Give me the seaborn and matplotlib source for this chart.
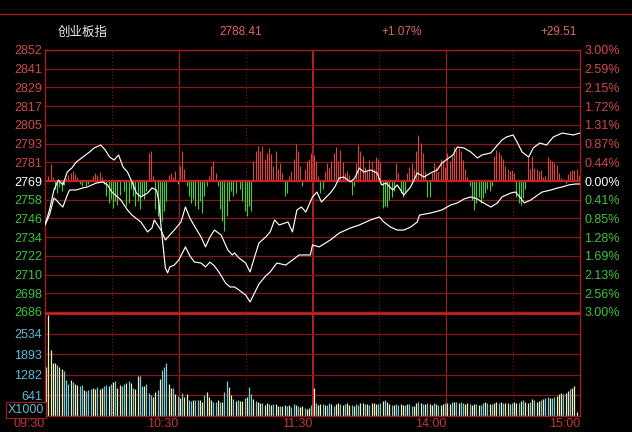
import numpy as np
import pandas as pd
import matplotlib
matplotlib.use("Agg")
import matplotlib.pyplot as plt
import seaborn as sns
from matplotlib.lines import Line2D

# ---- chart data ----
header = ['创业板指', '2788.41', '+1.07%', '+29.51']
price_labels = ['2852', '2841', '2829', '2817', '2805', '2793', '2781', '2769',
                '2758', '2746', '2734', '2722', '2710', '2698', '2686']
pct_labels = ['3.00%', '2.59%', '2.15%', '1.72%', '1.31%', '0.87%', '0.44%', '0.00%',
              '0.41%', '0.85%', '1.28%', '1.69%', '2.13%', '2.56%', '3.00%']
vol_ticks = [641, 1282, 1923, 2564]
vol_labels = ['641', '1282', '1893', '2534']
time_ticks = [0, 60, 120, 180, 240]
time_labels = ['09:30', '10:30', '11:30', '14:00', '15:00']
base_price = 2769

# index line 1 (minute since open, value)
line_a_min = [0, 2, 4, 6, 8, 10, 12, 14, 17, 20, 22, 25, 27, 29, 31, 33, 35, 37, 39, 41,
              43, 46, 48, 50, 51, 52, 54, 55, 56, 58, 60, 63, 65, 67, 70, 72, 74, 76, 78, 81,
              83, 85, 87, 90, 92, 94, 96, 99, 101, 104, 108, 111, 114, 119, 120, 123, 128, 132, 137, 141,
              146, 150, 152, 155, 158, 161, 164, 167, 168, 173, 178, 182, 185, 188, 191, 194, 196, 200, 203, 205,
              209, 211, 213, 215, 218, 221, 223, 227, 230, 232, 235, 238, 240]
line_a_val = [2741.1, 2750.6, 2763.3, 2769.6, 2766.5, 2774.7, 2777.2, 2781.0, 2784.2, 2787.4,
              2789.9, 2791.8, 2788.7, 2784.2, 2782.3, 2785.5, 2777.9, 2774.7, 2768.4, 2761.4,
              2758.9, 2761.4, 2764.6, 2763.3, 2757.0, 2741.1, 2713.8, 2710.7, 2714.5, 2715.7,
              2718.9, 2727.2, 2721.5, 2717.6, 2717.0, 2714.5, 2717.6, 2715.1, 2711.3, 2704.3,
              2701.8, 2701.8, 2699.9, 2696.7, 2692.3, 2698.0, 2703.7, 2708.8, 2711.3, 2717.0,
              2715.7, 2718.9, 2722.1, 2722.1, 2728.4, 2727.2, 2731.6, 2736.0, 2739.2, 2741.1,
              2744.3, 2746.2, 2743.0, 2739.8, 2737.9, 2737.9, 2739.8, 2743.0, 2747.4, 2748.7,
              2750.6, 2753.8, 2755.1, 2757.6, 2758.9, 2757.6, 2755.7, 2752.5, 2755.1, 2758.9,
              2761.4, 2762.0, 2758.9, 2755.1, 2757.0, 2760.1, 2762.0, 2763.3, 2764.6, 2765.2,
              2766.5, 2767.1, 2767.1]

# index line 2
line_b_min = [0, 2, 4, 5, 7, 8, 10, 11, 14, 17, 19, 21, 23, 26, 28, 30, 34, 37, 39, 43,
              46, 48, 49, 52, 54, 56, 58, 61, 63, 65, 67, 70, 72, 74, 76, 79, 82, 84, 85, 87,
              90, 92, 94, 96, 99, 101, 103, 105, 109, 111, 113, 115, 117, 120, 122, 124, 128, 130, 132, 134,
              137, 139, 141, 143, 146, 149, 151, 153, 156, 158, 161, 164, 167, 170, 173, 176, 178, 183, 185, 188,
              191, 194, 196, 200, 203, 205, 207, 210, 212, 214, 217, 219, 222, 225, 228, 232, 237, 240]
line_b_val = [2741.1, 2747.4, 2758.2, 2757.0, 2753.8, 2752.5, 2760.1, 2763.3, 2763.3, 2764.6,
              2765.2, 2766.5, 2767.7, 2768.4, 2766.5, 2762.0, 2757.0, 2750.6, 2747.4, 2743.0,
              2736.7, 2739.2, 2744.3, 2737.9, 2731.6, 2734.8, 2737.9, 2743.0, 2752.5, 2745.5,
              2740.5, 2733.5, 2727.2, 2733.5, 2737.9, 2734.8, 2725.3, 2722.1, 2723.4, 2720.2,
              2717.0, 2711.3, 2720.8, 2729.7, 2733.5, 2736.7, 2744.3, 2741.1, 2743.0, 2736.7,
              2750.6, 2752.5, 2749.3, 2758.9, 2762.0, 2755.7, 2761.4, 2765.2, 2770.9, 2771.5,
              2768.4, 2770.9, 2777.2, 2774.7, 2776.0, 2774.1, 2766.5, 2767.7, 2763.3, 2766.5,
              2760.1, 2765.2, 2774.1, 2771.5, 2774.1, 2776.0, 2780.4, 2785.5, 2790.6, 2789.9,
              2787.4, 2783.6, 2785.5, 2786.8, 2791.8, 2795.0, 2796.9, 2798.2, 2793.1, 2787.4,
              2784.2, 2789.9, 2793.1, 2791.8, 2796.9, 2799.4, 2798.2, 2799.4]

# buy/sell strength bars, one per minute (index points / 0.634)
strength = [0, 5, 17, 4, -8, -12, -6, -10, -4, 3,
            6, 8, 10, 7, 4, -3, -5, 0, -5, -3,
            2, 5, 8, 6, 9, 4, -3, -15, -22, -18,
            -27, -20, -24, -14, 0, -10, -25, -22, -8, -15,
            -25, -20, -28, -15, -18, -10, 28, 30, 5, -28,
            -35, -38, -40, -30, -20, 6, 8, 4, 10, -3,
            15, 30, 12, -5, -15, -22, -18, -25, -28, -20,
            -32, -15, -5, 5, 15, 20, 8, -5, -28, -40,
            -50, -35, -20, -10, -15, -12, 0, -8, -20, -30,
            -35, -25, -30, 20, 30, 35, 30, 35, 22, 28,
            33, 27, 15, 30, 12, 18, 8, -15, -12, 5,
            10, 22, 37, 30, 15, -5, 12, 20, 22, 28,
            26, 20, 5, -12, -8, 10, 18, 13, 20, 28,
            34, 20, 31, 19, 8, 10, 6, -14, -5, 18,
            36, 30, 25, 14, 10, 21, 20, 12, 24, 22,
            19, -27, -25, -26, -19, -16, -10, 18, 8, -12,
            -16, -11, 8, 14, 18, 12, 30, 46, 38, 28,
            10, -16, -16, 8, 18, 14, 9, 22, 20, 14,
            28, 20, 25, 34, 31, 33, 30, 21, 12, 4,
            -5, -19, -29, -22, -16, -22, -17, -12, -8, -10,
            -5, 25, 31, 29, 26, 22, 15, 12, 10, 11,
            8, -16, -22, -24, -17, -8, 24, 12, 25, 13,
            12, 10, 11, 4, 5, 24, 21, 20, 18, 16,
            8, 3, 2, -2, 7, 10, 11, 11, 12, 6]

# volume per minute (x1000)
volume = [1540, 3150, 2060, 1640, 1640, 1600, 1520, 1460, 1400, 1120,
          1000, 1120, 1050, 1000, 970, 920, 970, 810, 790, 810,
          830, 860, 830, 890, 830, 860, 920, 970, 920, 1000,
          1070, 1100, 860, 970, 920, 990, 1020, 1100, 1040, 860,
          830, 1230, 1230, 920, 940, 1000, 710, 660, 580, 760,
          810, 1140, 1440, 1520, 1640, 1000, 860, 860, 700, 620,
          560, 710, 600, 700, 500, 480, 500, 500, 500, 500,
          450, 660, 760, 580, 500, 450, 450, 500, 450, 450,
          760, 1100, 900, 660, 520, 480, 500, 460, 480, 550,
          600, 890, 700, 520, 480, 450, 400, 400, 350, 400,
          370, 340, 360, 360, 310, 320, 310, 340, 320, 330,
          290, 360, 340, 310, 290, 310, 250, 210, 260, 330,
          870, 420, 340, 380, 360, 330, 350, 390, 360, 310,
          360, 400, 380, 340, 370, 390, 350, 340, 320, 380,
          350, 400, 420, 380, 360, 330, 400, 420, 380, 360,
          420, 460, 500, 430, 380, 350, 340, 380, 350, 360,
          330, 340, 380, 360, 300, 320, 420, 440, 400, 380,
          360, 420, 380, 330, 390, 360, 330, 350, 380, 420,
          400, 380, 430, 450, 450, 420, 440, 420, 380, 400,
          360, 350, 380, 370, 330, 350, 420, 440, 420, 360,
          380, 400, 450, 420, 440, 400, 420, 390, 380, 420,
          440, 420, 400, 460, 500, 450, 420, 450, 520, 500,
          450, 480, 500, 520, 560, 590, 560, 560, 590, 620,
          690, 710, 690, 730, 780, 850, 880, 920, 130, 0]

# 1 = minute closed up (cream bar), 0 = down (cyan bar)
vol_up = ("11111011000101100100" "01101100101011001010" "11001000110100011010"
          "10110010011011100101" "00110101101001011011" "01011011010010110110"
          "10110100101101011010" "01101011100101101001" "10100110101011010110"
          "11010100110110100101" "01101011001101011010" "11010010011101101110")

assert len(line_a_min) == len(line_a_val)
assert len(line_b_min) == len(line_b_val)
assert len(strength) == len(volume) == len(vol_up) == 240

# ---- styling ----
sns.set_theme(style='dark', rc={'axes.facecolor': 'black', 'figure.facecolor': 'black',
                                'axes.grid': False})
plt.rcParams['font.family'] = ['Liberation Sans', 'Noto Sans CJK SC']

RED = '#d04848'
GREEN = '#3cc43c'
CYAN = '#5cbcd4'
GRID = '#861818'
GRID2 = '#a41c1c'

W, H = 632, 432
fig = plt.figure(figsize=(W / 100, H / 100), dpi=100)
ax = fig.add_axes([45 / W, (H - 312) / H, 535 / W, 262 / H])
axv = fig.add_axes([45 / W, (H - 416) / H, 535 / W, 103 / H])

half = base_price * 0.03
price_pos = np.linspace(base_price + half, base_price - half, len(price_labels))
minutes = np.arange(240) + 0.5

for a in (ax, axv):
    a.set_facecolor('black')
    a.set_xlim(0, 240)
    for m in (30, 90, 150, 210):
        a.axvline(m, color=GRID, lw=0.8, ls=(0, (1, 2)), zorder=0)
    for m in (60, 180):
        a.axvline(m, color=GRID2, lw=0.8, zorder=0)
    a.axvline(120, color='#c02424', lw=1.3, zorder=0)
    for s in a.spines.values():
        s.set_color(GRID2)
        s.set_linewidth(1)

# price panel
ax.set_ylim(base_price - half, base_price + half)
for p in price_pos:
    ax.axhline(p, color=GRID, lw=0.9, zorder=0)

s = np.array(strength) * 0.634
colors = ['#dc4444' if v >= 0 else '#44cc44' for v in strength]
ax.vlines(minutes, base_price, base_price + s, colors=colors, lw=0.8, zorder=2)
ax.axhline(base_price, color='#cc2020', lw=1.6, zorder=2)

df_a = pd.DataFrame({'minute': line_a_min, 'value': line_a_val})
df_b = pd.DataFrame({'minute': line_b_min, 'value': line_b_val})
sns.lineplot(data=df_a, x='minute', y='value', ax=ax, color='white', lw=0.85, zorder=3)
sns.lineplot(data=df_b, x='minute', y='value', ax=ax, color='#fffff0', lw=0.85, zorder=3)

ax.set_xlabel('')
ax.set_ylabel('')
ax.set_xticks([])
ax.set_yticks(price_pos)
ax.set_yticklabels(price_labels, fontsize=9)
ax.tick_params(axis='y', length=0, pad=2)
for i, t in enumerate(ax.get_yticklabels()):
    t.set_color(RED if i < 7 else ('white' if i == 7 else GREEN))

axr = ax.twinx()
axr.set_ylim(ax.get_ylim())
axr.set_yticks(price_pos)
axr.set_yticklabels(pct_labels, fontsize=9)
axr.tick_params(axis='y', length=0, pad=3)
axr.grid(False)
for s_ in axr.spines.values():
    s_.set_visible(False)
for i, t in enumerate(axr.get_yticklabels()):
    t.set_color(RED if i < 7 else ('white' if i == 7 else GREEN))

# volume panel
vol_top = 641 * 5
axv.set_ylim(0, vol_top)
for v in vol_ticks:
    axv.axhline(v, color=GRID, lw=0.9, zorder=0)
vcolors = ['#f2f0b8' if c == '1' else '#78ccd8' for c in vol_up]
axv.vlines(minutes, 0, volume, colors=vcolors, lw=0.9, zorder=2)
axv.axhline(vol_top, color='#c82020', lw=2.0, zorder=3)
axv.set_yticks(vol_ticks)
axv.set_yticklabels(vol_labels, fontsize=9, color=CYAN)
axv.tick_params(axis='y', length=0, pad=2)
axv.set_xticks(time_ticks)
axv.set_xticklabels(time_labels, fontsize=9, color='#c83434', ha='right')
axv.tick_params(axis='x', length=0, pad=1.5)

fig.text(26 / W, 1 - 410 / H, 'X1000', ha='center', va='center', fontsize=9, color=CYAN,
         bbox=dict(facecolor='black', edgecolor=GRID2, pad=1.2, lw=0.8))

# header
fig.add_artist(Line2D([0, 1], [1 - 14 / H] * 2, color=GRID2, lw=1))
hy = 1 - 32 / H
fig.text(58 / W, hy, header[0], ha='left', va='center', fontsize=9, color='#f0f0dc',
         family=['Noto Sans CJK SC', 'DejaVu Sans'])
fig.text(219 / W, hy, header[1], ha='left', va='center', fontsize=8.5, color='#e06464')
fig.text(381 / W, hy, header[2], ha='left', va='center', fontsize=8.5, color='#e06464')
fig.text(540 / W, hy, header[3], ha='left', va='center', fontsize=8.5, color='#e06464')

fig.savefig('out.png', dpi=100, facecolor='black')
